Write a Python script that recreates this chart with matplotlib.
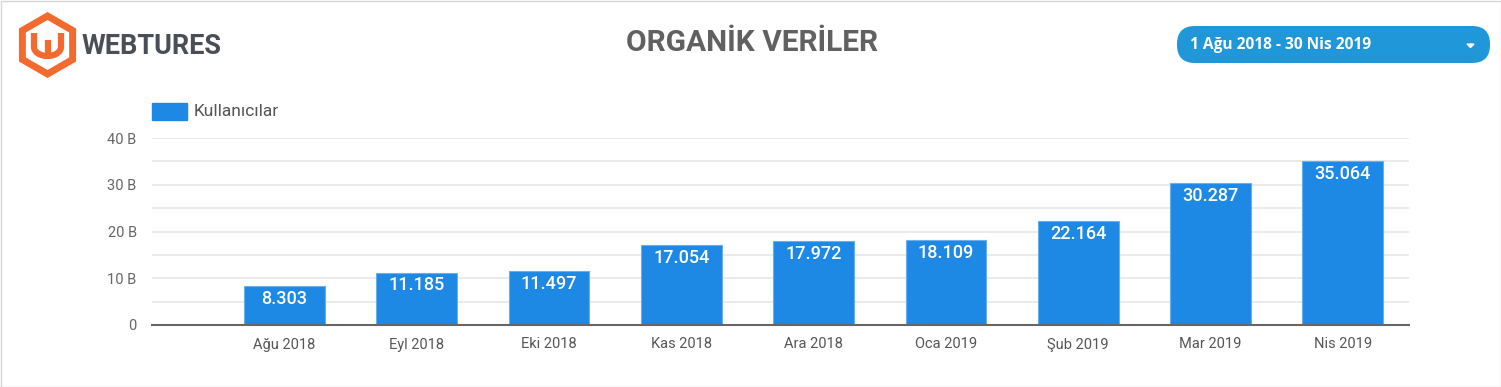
import numpy as np
import matplotlib.pyplot as plt
from matplotlib.patches import RegularPolygon, FancyBboxPatch, Rectangle

months = ['Ağu 2018', 'Eyl 2018', 'Eki 2018', 'Kas 2018', 'Ara 2018',
          'Oca 2019', 'Şub 2019', 'Mar 2019', 'Nis 2019']
users = [8.303, 11.185, 11.497, 17.054, 17.972, 18.109, 22.164, 30.287, 35.064]
value_labels = ['8.303', '11.185', '11.497', '17.054', '17.972',
                '18.109', '22.164', '30.287', '35.064']
y_ticks = [0, 10, 20, 30, 40]
y_tick_labels = ['0', '10 B', '20 B', '30 B', '40 B']

BLUE = '#1e88e5'
W, H = 1501, 387

plt.rcParams['font.family'] = ['Roboto', 'DejaVu Sans']
fig = plt.figure(figsize=(W / 100, H / 100), dpi=100)

# ---- bar chart
ax = fig.add_axes([152 / W, (H - 325) / H, (1409 - 152) / W, (325 - 138) / H])
x = np.arange(len(months))
ax.bar(x, users, width=0.61, color=BLUE, edgecolor='#6aaeea', linewidth=0.8, zorder=3)
for xi, v, lab in zip(x, users, value_labels):
    ax.text(xi, v - 0.8, lab, ha='center', va='top', color='white',
            fontsize=13, fontweight='medium', zorder=4)

ax.set_xlim(-1.0, 8.5)
ax.set_ylim(0, 40)
ax.set_yticks(y_ticks)
ax.set_yticklabels(y_tick_labels, fontsize=10.5, color='#666666')
ax.set_yticks(np.arange(0, 41, 5), minor=True)
ax.grid(axis='y', which='both', color='#e8e8e8', linewidth=1.2, zorder=0)
ax.set_xticks(x)
ax.set_xticklabels(months, fontsize=10.5, color='#555555')
ax.tick_params(axis='both', which='both', length=0)
ax.tick_params(axis='x', pad=9)
ax.tick_params(axis='y', pad=11)
for s in ['top', 'right', 'left']:
    ax.spines[s].set_visible(False)
ax.spines['bottom'].set_color('#666666')
ax.spines['bottom'].set_linewidth(1.5)
ax.spines['bottom'].set_zorder(5)

# ---- overlay for header items (pixel coordinates, y downwards)
ov = fig.add_axes([0, 0, 1, 1], zorder=10)
ov.set_xlim(0, W)
ov.set_ylim(H, 0)
ov.axis('off')

# frame
ov.add_patch(Rectangle((0.5, 0.5), W - 1, H - 1, fill=False, edgecolor='#d6d6d6', linewidth=1))

# legend
ov.add_patch(Rectangle((152, 103), 35, 17, color=BLUE))
ov.text(194, 112, 'Kullanıcılar', fontsize=12.5, color='#555555', va='center', ha='left')

# logo
ORANGE = '#f26a2e'
ov.add_patch(RegularPolygon((47.5, 45), numVertices=6, radius=29, orientation=0,
                            fill=False, edgecolor=ORANGE, linewidth=5))
cx, cy, r = 47.5, 47, 13.5
arc = np.linspace(0, np.pi, 30)
px = [cx - r] + list(cx - r * np.cos(arc)) + [cx + r]
py = [33] + list(cy + 9 * np.sin(arc)) + [33]
ov.plot(px, py, color=ORANGE, linewidth=4.5, solid_capstyle='butt')
ov.plot([cx, cx], [40, 54], color=ORANGE, linewidth=4.5, solid_capstyle='butt')
ov.text(82, 46, 'WEBTURES', fontsize=19.5, fontweight='bold', color='#4a4f57',
        va='center', ha='left')

# title
ov.text(752, 43, 'ORGANİK VERİLER', fontsize=21.5, fontweight='bold', color='#616161',
        va='center', ha='center')

# date dropdown
ov.add_patch(FancyBboxPatch((1177, 26), 313, 37,
                            boxstyle='round,pad=0,rounding_size=18',
                            facecolor='#1f97d8', edgecolor='none'))
ov.text(1190, 45, '1 Ağu 2018 - 30 Nis 2019', fontsize=11.2, fontweight='bold',
        color='white', va='center', ha='left', family=['Open Sans', 'DejaVu Sans'])
ov.fill([1467, 1474, 1470.5], [44, 44, 47.5], color='white')

fig.savefig('out.png', dpi=100)
